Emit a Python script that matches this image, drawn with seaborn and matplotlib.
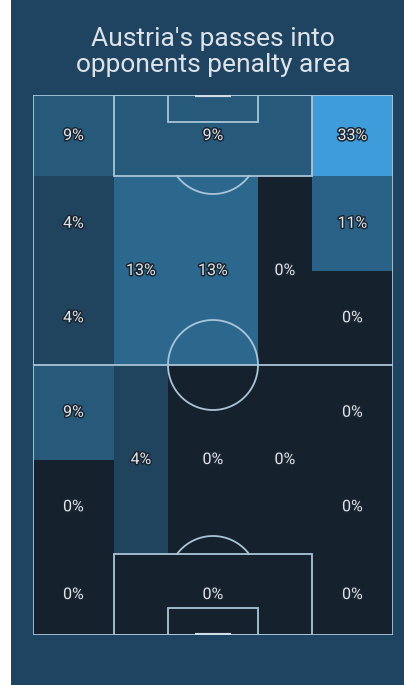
import numpy as np
import matplotlib
matplotlib.use("Agg")
import matplotlib.pyplot as plt
import matplotlib.patheffects as pe
from matplotlib.colors import ListedColormap
from matplotlib.patches import Rectangle
import seaborn as sns

# zone grid on a 80 x 120 pitch (attacking towards the top)
x_edges = [0, 18, 30, 50, 62, 80]
y_edges = [0, 18, 39, 60, 81, 102, 120]

# each zone: share of passes (%), column span, row span on the grid above
zone_values = [9, 9, 33,
               4, 13, 13, 0, 11,
               4, 0,
               9, 4, 0, 0, 0,
               0, 0,
               0, 0, 0]
zone_cols = [(0, 1), (1, 4), (4, 5),
             (0, 1), (1, 2), (2, 3), (3, 4), (4, 5),
             (0, 1), (4, 5),
             (0, 1), (1, 2), (2, 3), (3, 4), (4, 5),
             (0, 1), (4, 5),
             (0, 1), (1, 4), (4, 5)]
zone_rows = [(0, 1), (0, 1), (0, 1),
             (1, 2), (1, 3), (1, 3), (1, 3), (1, 2),
             (2, 3), (2, 3),
             (3, 4), (3, 5), (3, 5), (3, 5), (3, 4),
             (4, 5), (4, 5),
             (5, 6), (5, 6), (5, 6)]

title = "Austria's passes into\nopponents penalty area"

# fill a 1-unit grid from the zones so seaborn can draw it
grid = np.zeros((120, 80))
for v, (c0, c1), (r0, r1) in zip(zone_values, zone_cols, zone_rows):
    grid[y_edges[r0]:y_edges[r1], x_edges[c0]:x_edges[c1]] = v

base = sns.blend_palette(["#15212c", "#3d9cd9"], n_colors=256)
cmap = ListedColormap([base[int(round(255 * (i / 255) ** 0.6))] for i in range(256)])

navy = "#1f4461"
line_c = "#a9c5d8"

fig = plt.figure(figsize=(4.04, 6.85), dpi=100, facecolor="white")
fig.add_artist(Rectangle((11 / 404, 0), 1, 1, transform=fig.transFigure,
                         facecolor=navy, edgecolor="none", zorder=-10))

ax = fig.add_axes([33 / 404, 50 / 685, 360 / 404, 540 / 685])
sns.heatmap(grid, cmap=cmap, vmin=0, vmax=33, cbar=False, ax=ax,
            xticklabels=False, yticklabels=False)
ax.set_xlim(0, 80)
ax.set_ylim(120, 0)
for s in ax.spines.values():
    s.set_visible(False)

# pitch markings
lw = 1.3
ax.add_patch(Rectangle((0, 0), 80, 120, fill=False, ec=line_c, lw=lw))
ax.plot([0, 80], [60, 60], color=line_c, lw=lw)
t = np.linspace(0, 2 * np.pi, 200)
ax.plot(40 + 10 * np.cos(t), 60 + 10 * np.sin(t), color=line_c, lw=lw)
for y0, sgn in [(0, 1), (120, -1)]:
    ax.add_patch(Rectangle((18, min(y0, y0 + sgn * 18)), 44, 18, fill=False, ec=line_c, lw=lw))
    ax.add_patch(Rectangle((30, min(y0, y0 + sgn * 6)), 20, 6, fill=False, ec=line_c, lw=lw))
    a = np.linspace(np.arcsin(0.6), np.pi - np.arcsin(0.6), 50)
    ax.plot(40 + 10 * np.cos(a), y0 + sgn * (12 + 10 * np.sin(a)), color=line_c, lw=lw)
    ax.plot([36, 44], [y0, y0], color="#d0dde6", lw=3, solid_capstyle="butt")

# zone labels
for v, (c0, c1), (r0, r1) in zip(zone_values, zone_cols, zone_rows):
    cx = (x_edges[c0] + x_edges[c1]) / 2
    cy = (y_edges[r0] + y_edges[r1]) / 2
    ax.text(cx, cy, f"{v}%", ha="center", va="center", color="#e2e4e6",
            fontsize=11.5, family="Roboto",
            path_effects=[pe.withStroke(linewidth=2.2, foreground="#1a2633")])

fig.text(213 / 404, 1 - 52 / 685, title, ha="center", va="center",
         color="#dde3e8", fontsize=19, family="Roboto",
         linespacing=1.15)

fig.savefig("out.png", dpi=100, facecolor=fig.get_facecolor())
